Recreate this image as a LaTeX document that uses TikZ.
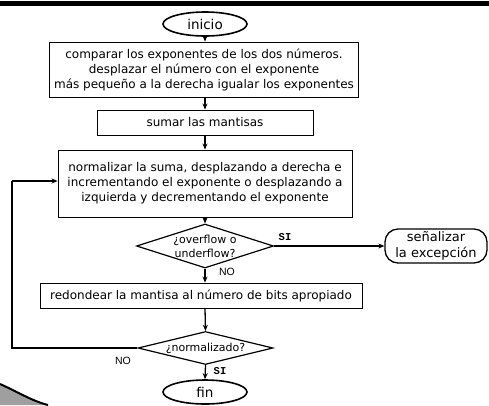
\documentclass[tikz,border=0pt]{standalone}
\usepackage{fontspec}
\setmainfont{DejaVu Sans}
\newfontfamily\labfont{Liberation Sans}
\newfontfamily\monofont{Liberation Mono}
\usetikzlibrary{shapes.geometric,arrows.meta}
\begin{document}
\begin{tikzpicture}[x=1pt,y=-1pt,
  boxnode/.style={draw,line width=0.9pt,rectangle,inner sep=0pt,align=center,font=\fontsize{12}{15}\selectfont},
  termnode/.style={draw,line width=1.6pt,ellipse,inner sep=0pt,minimum width=84pt,minimum height=24pt,font=\fontsize{13.5}{15}\selectfont},
  decnode/.style={draw,line width=1.2pt,diamond,aspect=3,inner sep=-8pt,align=center,font=\fontsize{11}{14}\selectfont},
  flow/.style={line width=1.3pt,-{Stealth[length=6pt,width=5pt]}},
  plain/.style={line width=1.3pt},
  yeslab/.style={font=\monofont\bfseries\fontsize{10.5}{11}\selectfont,inner sep=0pt},
  nolab/.style={font=\labfont\fontsize{10.5}{11}\selectfont,inner sep=0pt}
]
\useasboundingbox (0,0) rectangle (489,405);
% top bar
\fill[black] (0,0.5) rectangle (489,5.5);
% swoosh
\fill[gray!75] (0,384) .. controls (18,392) and (32,401) .. (48,405) -- (0,405) -- cycle;
\draw[line width=2pt] (0,384) .. controls (18,392) and (32,401) .. (48,405);

\node[termnode] (inicio) at (205,24) {inicio};
\node[boxnode,minimum width=309pt,minimum height=55pt] (b1) at (204,69.5)
  {comparar los exponentes de los dos números.\\desplazar el número con el exponente\\más pequeño a la derecha igualar los exponentes};
\node[boxnode,minimum width=216pt,minimum height=25pt] (b2) at (205,122.5) {sumar las mantisas};
\node[boxnode,minimum width=294pt,minimum height=67pt] (b3) at (205,183.5)
  {normalizar la suma, desplazando a derecha e\\incrementando el exponente o desplazando a\\izquierda y decrementando el exponente};
\node[decnode,minimum width=137pt,minimum height=44pt] (d1) at (205,246) {¿overflow o\\underflow?};
\node[boxnode,rounded corners=13pt,line width=1.3pt,minimum width=102pt,minimum height=34pt,font=\fontsize{13}{16}\selectfont] (sen) at (436,246) {señalizar\\la excepción};
\node[boxnode,minimum width=322pt,minimum height=25pt] (b4) at (201,295.5) {redondear la mantisa al número de bits apropiado};
\node[decnode,minimum width=135pt,minimum height=33pt] (d2) at (205.5,348) {¿normalizado?};
\node[termnode] (fin) at (205,392) {fin};

\coordinate (lb) at (12,348);
\coordinate (lt) at (12,181);

\draw[flow] (inicio.south) -- (inicio.south |- b1.north);
\draw[flow] (inicio.south |- b1.south) -- (inicio.south |- b2.north);
\draw[flow] (b2.south) -- (b3.north);
\draw[flow] (b3.south) -- (d1.north);
\draw[flow] (d1.east) -- (sen.west);
\draw[flow] (d1.south) -- (d1.south |- b4.north);
\draw[flow] (d1.south |- b4.south) -- (d2.north);
\draw[flow] (d2.south) -- (fin.north);
\draw[plain] (d2.west) -- (lb) -- (lt);
\draw[flow] (lt) -- (lt -| b3.west);

\node[yeslab] (si1) at (285,237) {SI};
\node[nolab] (no1) at (227,272) {NO};
\node[nolab] (no2) at (123,361) {NO};
\node[yeslab] (si2) at (220,371) {SI};
\end{tikzpicture}
\end{document}
